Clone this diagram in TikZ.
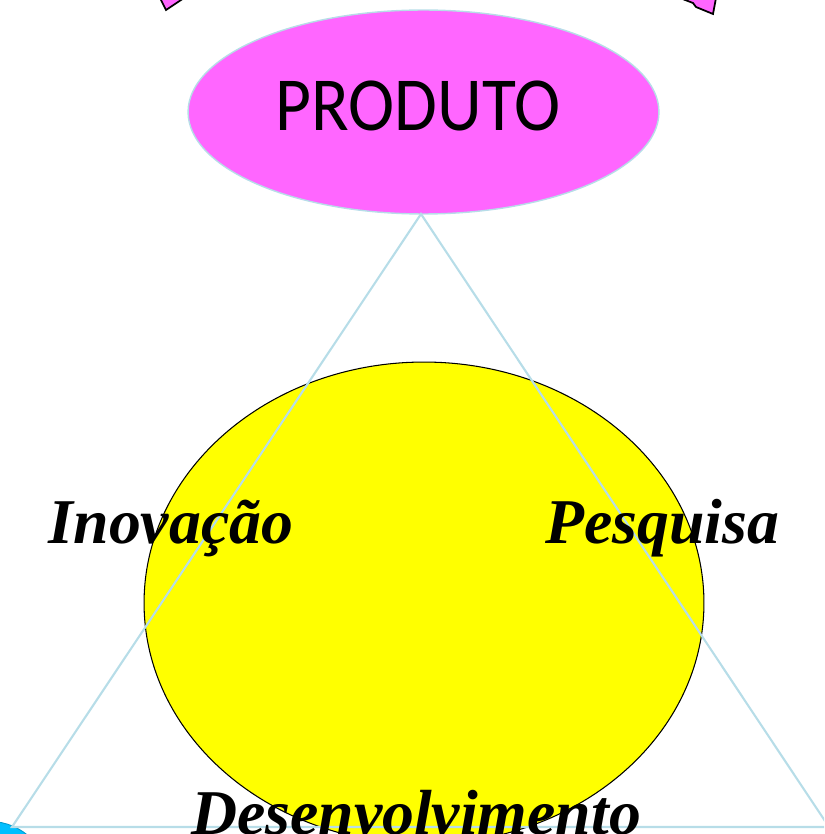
\documentclass[tikz,border=0pt]{standalone}
\usepackage{fontspec}
\setmainfont{Liberation Serif}
\newfontfamily\produtofont{Carlito}[FakeStretch=0.91]
\usetikzlibrary{shapes.geometric}
\definecolor{rosa}{RGB}{255,102,255}
\definecolor{amarelo}{RGB}{255,255,0}
\definecolor{azulclaro}{RGB}{183,221,232}
\definecolor{ciano}{RGB}{0,191,255}
\tikzset{
  oval/.style={ellipse, inner sep=0pt},
  rotulo/.style={anchor=base, font=\fontsize{36.3}{36.3}\selectfont\bfseries\itshape},
  lado/.style={draw=azulclaro, line width=1.2pt}
}
\begin{document}
\begin{tikzpicture}[x=0.02cm, y=-0.02cm]
  \useasboundingbox (0,0) rectangle (824,834);
  \clip (0,0) rectangle (824,834);
  % pieces cut off at the edges
  \draw[fill=rosa, line width=1pt] (160,-2) -- (166,10) -- (184,-2);
  \draw[fill=rosa, line width=1pt] (680,-2) -- (693,3) -- (696,7) -- (713,14) -- (716,-2);
  \draw[fill=ciano, draw=ciano!80!black, line width=0.5pt] (-10,880) circle (58.5);
  % yellow oval
  \node[oval, fill=amarelo, draw=black, line width=0.6pt,
        minimum width=11.2cm, minimum height=9.64cm] (centro) at (424,603) {};
  % product oval
  \node[oval, fill=rosa, draw=azulclaro, line width=0.8pt,
        minimum width=9.42cm, minimum height=4.08cm] (produto) at (423.5,112) {};
  \node[anchor=base, inner sep=0pt, font=\fontsize{43.5}{43.5}\produtofont] (produtotxt) at (418,131) {PRODUTO};
  % triangle
  \coordinate (topo) at (421,214);
  \coordinate (esq) at (12,827);
  \coordinate (dir) at (829,827);
  \draw[lado] (topo) -- (esq) -- (dir) -- cycle;
  % labels
  \node[rotulo, inner sep=0pt] (inovacao) at (171,543) {Inovação};
  \node[rotulo, inner sep=0pt] (pesquisa) at (662,543) {Pesquisa};
  \node[rotulo, inner sep=0pt] (desenv) at (416,834) {Desenvolvimento};
\end{tikzpicture}
\end{document}
